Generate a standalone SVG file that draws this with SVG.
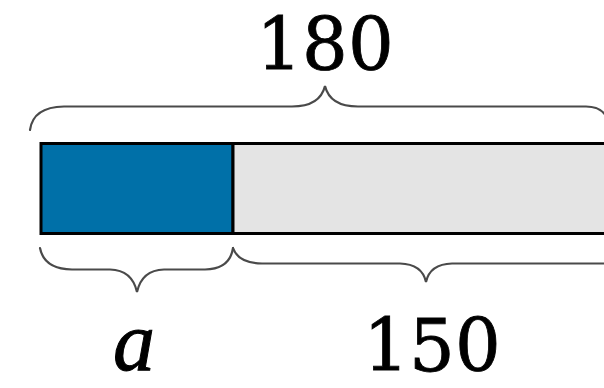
<svg xmlns="http://www.w3.org/2000/svg" width="604" height="388" viewBox="0 0 604 388">
<style>
.brace{fill:none;stroke:#4a4a4a;stroke-width:2.2;stroke-linecap:round}
.num{font-family:"DejaVu Serif","Liberation Serif",serif;font-size:72px;fill:#000;stroke:#000;stroke-width:0.8}
</style>
<rect width="604" height="388" fill="#fff"/>
<g id="bar">
<rect x="41" y="143.5" width="192" height="90" fill="#0070A8" stroke="#000" stroke-width="3"/>
<rect x="233" y="143.5" width="375" height="90" fill="#E4E4E4" stroke="#000" stroke-width="3"/>
</g>
<g id="connectors">
<path class="brace" d="M30,130 Q33,107 64,106.5 L292,106.5 Q320,106.5 325,86 Q330,106.5 358,106.5 L586,106.5 Q600,106.5 606,116"/>
<path class="brace" d="M40,248 Q44,269 72,269.5 L110,269.5 Q132,270 137,292 Q142,270 164,269.5 L205,269.5 Q230,269 233,248"/>
<path class="brace" d="M233,248 Q238,263 262,263.5 L400,263.5 Q422,264 426,282 Q430,264 452,263.5 L606,263.5"/>
</g>
<g id="label-180"><text class="num" x="325" y="70" text-anchor="middle">180</text></g>
<g id="label-a"><text x="134" y="370" text-anchor="middle" font-family="Liberation Serif,serif" font-style="italic" font-size="84" stroke="#000" stroke-width="1">a</text></g>
<g id="label-150"><text class="num" x="432" y="371" text-anchor="middle">150</text></g>
</svg>
